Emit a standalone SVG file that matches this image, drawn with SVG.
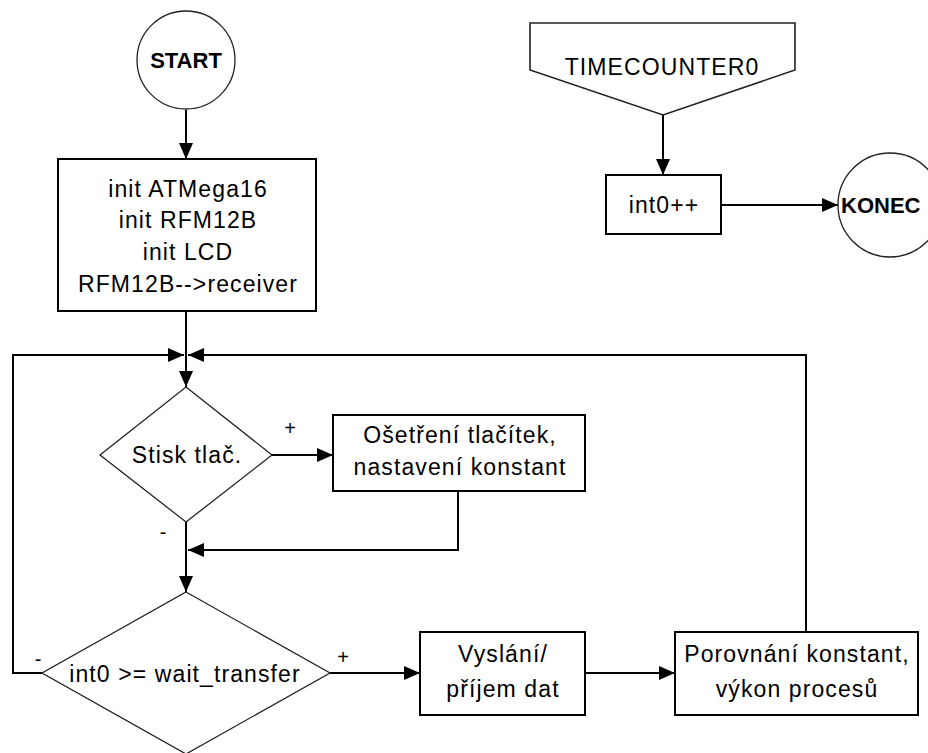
<svg xmlns="http://www.w3.org/2000/svg" width="928" height="753" viewBox="0 0 928 753">
<defs>
<style>
.box{fill:#fff;stroke:#000;stroke-width:2}
.thin{fill:#fff;stroke:#222;stroke-width:1.3}
.t{font-family:"Liberation Sans",Arial,sans-serif;font-size:23px;letter-spacing:1.1px;fill:#000;text-anchor:middle}
.b{font-family:"Liberation Sans",Arial,sans-serif;font-size:22px;font-weight:bold;fill:#000;text-anchor:middle}
.l{font-family:"Liberation Sans",Arial,sans-serif;font-size:20px;fill:#000;text-anchor:middle}
.c{fill:none;stroke:#000;stroke-width:2}
</style>
<marker id="ah" viewBox="0 0 16 14" refX="16" refY="7" markerWidth="16" markerHeight="14" markerUnits="userSpaceOnUse" orient="auto">
<path d="M0,0 L16,7 L0,14 z" fill="#000"/>
</marker>
</defs>
<rect width="928" height="753" fill="#fff"/>
<g id="connectors">
<line class="c" x1="186" y1="110" x2="186" y2="159" marker-end="url(#ah)"/>
<line class="c" x1="186" y1="311" x2="186" y2="387" marker-end="url(#ah)"/>
<polyline class="c" points="42,673 13,673 13,355 184,355" marker-end="url(#ah)"/>
<polyline class="c" points="806,632 806,355 188,355" marker-end="url(#ah)"/>
<line class="c" x1="272" y1="455" x2="333" y2="455" marker-end="url(#ah)"/>
<polyline class="c" points="458,491 458,550 188,550" marker-end="url(#ah)"/>
<line class="c" x1="186" y1="522" x2="186" y2="592" marker-end="url(#ah)"/>
<line class="c" x1="330" y1="673" x2="420" y2="673" marker-end="url(#ah)"/>
<line class="c" x1="585" y1="673" x2="675" y2="673" marker-end="url(#ah)"/>
<line class="c" x1="663" y1="115" x2="663" y2="175" marker-end="url(#ah)"/>
<line class="c" x1="721" y1="205" x2="838" y2="205" marker-end="url(#ah)"/>
<text class="l" x="290" y="435">+</text>
<text class="l" x="163" y="539">-</text>
<text class="l" x="38" y="666">-</text>
<text class="l" x="343" y="664">+</text>
</g>
<g id="start">
<circle class="thin" cx="186" cy="60" r="49"/>
<text class="b" x="186" y="68">START</text>
</g>
<g id="init">
<rect class="box" x="58" y="159" width="258" height="152"/>
<text class="t" x="188" y="197">init ATMega16</text>
<text class="t" x="188" y="228">init RFM12B</text>
<text class="t" x="188" y="260">init LCD</text>
<text class="t" x="188" y="292">RFM12B--&gt;receiver</text>
</g>
<g id="stisk">
<polygon class="thin" points="186,387 272,455 186,522 100,455"/>
<text class="t" x="187" y="463">Stisk tlač.</text>
</g>
<g id="osetreni">
<rect class="box" x="333" y="415" width="252" height="76"/>
<text class="t" x="460" y="443">Ošetření tlačítek,</text>
<text class="t" x="460" y="475">nastavení konstant</text>
</g>
<g id="wait">
<polygon class="thin" points="186,592 330,673 186,754 42,673"/>
<text class="t" x="185" y="682">int0 &gt;= wait_transfer</text>
</g>
<g id="vyslani">
<rect class="box" x="420" y="632" width="165" height="83"/>
<text class="t" x="503" y="662">Vyslání/</text>
<text class="t" x="503" y="697">příjem dat</text>
</g>
<g id="porovnani">
<rect class="box" x="675" y="632" width="243" height="83"/>
<text class="t" x="797" y="662">Porovnání konstant,</text>
<text class="t" x="797" y="697">výkon procesů</text>
</g>
<g id="timecounter">
<polygon class="thin" points="530,23 795,23 795,70 663,115 530,70" style="stroke-width:1.6"/>
<text class="t" x="662" y="75">TIMECOUNTER0</text>
</g>
<g id="int0inc">
<rect class="box" x="606" y="175" width="115" height="59"/>
<text class="t" x="664" y="213">int0++</text>
</g>
<g id="konec">
<circle class="thin" cx="890" cy="205" r="52"/>
<text class="b" x="841" y="213" style="text-anchor:start">KONEC</text>
</g>
</svg>
